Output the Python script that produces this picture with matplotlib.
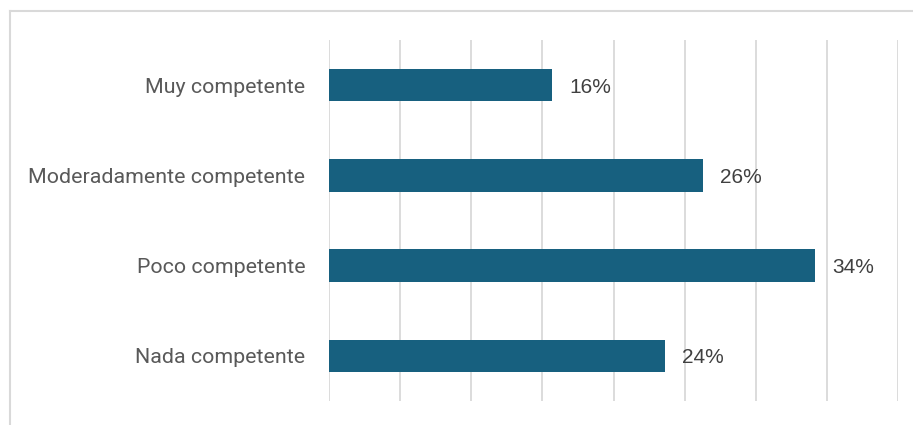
import matplotlib.pyplot as plt
from matplotlib.lines import Line2D

categories = ['Muy competente', 'Moderadamente competente', 'Poco competente', 'Nada competente']
values = [0.157, 0.263, 0.342, 0.236]
labels = ['16%', '26%', '34%', '24%']

fig = plt.figure(figsize=(9.13, 4.25), dpi=100)
ax = fig.add_axes([329 / 913, 1 - 401 / 425, (898 - 329) / 913, (401 - 40) / 425])

ypos = list(range(len(categories)))
ax.barh(ypos, values, height=0.36, color='#17607F', zorder=3)
ax.set_ylim(len(categories) - 0.5, -0.5)
ax.set_xlim(0, 0.40)
ax.set_xticks([i * 0.05 for i in range(9)])
ax.xaxis.grid(True, color='#D9D9D9', linewidth=1.3, zorder=0)
ax.set_xticklabels([])
ax.tick_params(axis='x', length=0)
ax.tick_params(axis='y', length=0, pad=17)
ax.set_yticks(ypos)
ax.set_yticklabels(categories, fontsize=15.4, color='#595959', family='Roboto')
for s in ax.spines.values():
    s.set_visible(False)

for y, v, t in zip(ypos, values, labels):
    ax.annotate(t, (v, y), xytext=(17, -2), textcoords='offset pixels',
                va='center', ha='left', fontsize=15, color='#404040', family='Liberation Sans')

# outer chart frame (left and top edges)
fig.add_artist(Line2D([10 / 913, 10 / 913], [0, 1 - 11 / 425], color='#D9D9D9', linewidth=1.5))
fig.add_artist(Line2D([10 / 913, 1], [1 - 11 / 425, 1 - 11 / 425], color='#D9D9D9', linewidth=1.5))

fig.savefig('out.png', dpi=100)
